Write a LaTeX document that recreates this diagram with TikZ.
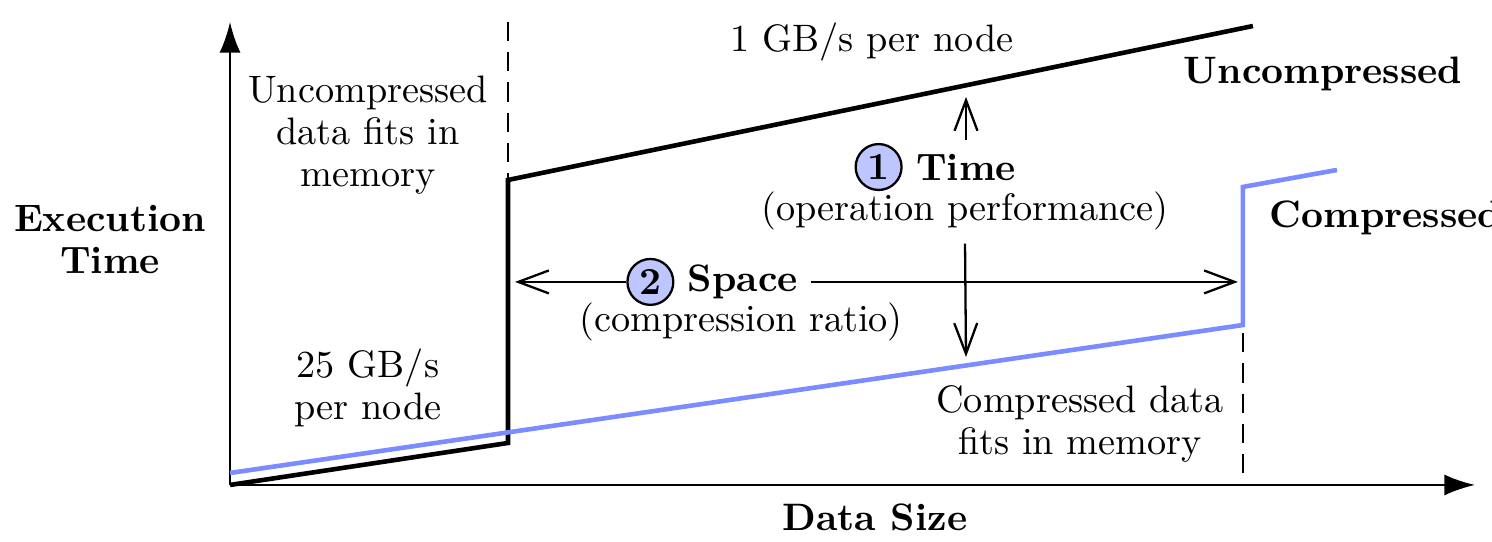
\documentclass[tikz,border=0pt]{standalone}
\usepackage{amsmath}
\usetikzlibrary{arrows.meta,positioning}

\definecolor{comprblue}{RGB}{122,140,255}
\definecolor{numfill}{RGB}{190,198,255}

\begin{document}
\begin{tikzpicture}[
    curve/.style={line width=1.2pt},
    axis/.style={semithick, -{Latex[length=8pt,width=5.5pt]}},
    marker/.style={semithick, dash pattern=on 5pt off 2.9pt},
    dim/.style={semithick, -{Straight Barb[length=8pt,width=6pt]}},
    lbl/.style={align=center, execute at begin node=\setlength{\baselineskip}{11pt}},
    num/.style={circle, draw, semithick, fill=numfill, inner sep=0pt, minimum size=12pt, font=\bfseries},
]
    \useasboundingbox (-2.114,-0.515) rectangle (11.598,4.457);

    % axes
    \coordinate (o) at (0,0);
    \coordinate (ytop) at (0,4.255);
    \coordinate (xend) at (11.442,0);
    \draw[axis] (o) -- (ytop);
    \draw[axis] (o) -- (xend);
    \node[lbl, font=\bfseries] (ylabel) at (-1.103,2.252) {Execution\\Time};
    \node[font=\bfseries] (xlabel) at (5.928,-0.294) {Data Size};

    % memory limits
    \draw[marker] (2.555,4.255) -- (2.555,2.803);
    \draw[marker] (9.309,1.395) -- (9.309,0);

    % uncompressed
    \draw[curve] (o) -- (2.555,0.386) -- (2.555,2.803) coordinate (ujump) -- (9.401,4.218);
    % compressed
    \draw[curve, comprblue] (0,0.110) -- (9.309,1.470) -- (9.309,2.739) -- (10.173,2.895);

    \node[lbl] (umem) at (1.268,3.217) {Uncompressed\\data fits in\\memory};
    \node[lbl] (fastrate) at (1.268,0.891) {25 GB/s\\per node};
    \node (slowrate) at (5.900,4.071) {1 GB/s per node};
    \node[font=\bfseries] (ulabel) at (10.045,3.777) {Uncompressed};
    \node[font=\bfseries, anchor=west] (clabel) at (9.430,2.454) {Compressed};
    \node[lbl] (cmem) at (7.812,0.561) {Compressed data\\fits in memory};

    % time gap
    \node[font=\bfseries] (time) at (6.764,2.922) {Time};
    \node[num, left=0pt of time] (n1) {1};
    \node (perf) at (6.755,2.518) {(operation performance)};
    \coordinate (uptip) at (6.764,3.566);
    \coordinate (dntip) at (6.764,1.176);
    \draw[dim] (time.north) -- (uptip);
    \draw[dim] (perf.south) -- (dntip);

    % space gap
    \node[font=\bfseries] (space) at (4.714,1.866) {Space};
    \node[num, left=0pt of space] (n2) {2};
    \node (ratio) at (4.696,1.498) {(compression ratio)};
    \coordinate (lefttip) at (2.619,1.866);
    \coordinate (righttip) at (9.263,1.866);
    \draw[dim] (n2.west) -- (lefttip);
    \draw[dim] (space.east) -- (righttip);
\end{tikzpicture}
\end{document}
